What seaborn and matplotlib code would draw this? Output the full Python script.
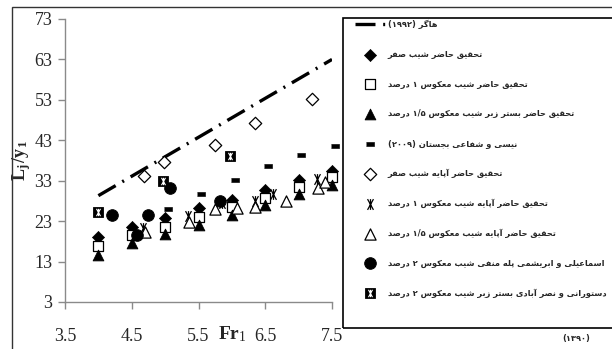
import re
import numpy as np
import pandas as pd
import seaborn as sns
import matplotlib
matplotlib.use("Agg")
import matplotlib.pyplot as plt
from matplotlib.path import Path
from matplotlib.patches import Rectangle
from matplotlib.font_manager import FontProperties

# ---------------- data ----------------
hagar_x = [4.0, 7.5]
hagar_y = [29.3, 63.0]

fr_main = [4.0, 4.5, 5.0, 5.5, 6.0, 6.5, 7.0, 7.5]
zero_slope = [19.1, 21.6, 23.7, 26.3, 28.2, 30.7, 33.2, 35.3]
rev_slope_1 = [16.9, 19.5, 21.6, 24.1, 26.6, 28.8, 31.5, 33.8]
rough_rev_15 = [14.6, 17.5, 19.7, 22.0, 24.5, 27.0, 29.6, 32.0]

nisi_x = [5.04, 5.54, 6.04, 6.54, 7.04, 7.54]
nisi_y = [26.0, 29.6, 33.3, 36.6, 39.4, 41.7]

apron_zero_x = [4.68, 4.99, 5.75, 6.35, 7.2]
apron_zero_y = [34.2, 37.7, 41.8, 47.3, 53.2]

apron_rev1_x = [4.67, 5.35, 5.85, 6.35, 6.62, 7.28]
apron_rev1_y = [21.4, 24.3, 27.4, 28.1, 29.8, 33.5]

apron_rev15_x = [4.7, 5.36, 5.75, 6.07, 6.34, 6.81, 7.29, 7.4]
apron_rev15_y = [20.4, 22.9, 25.9, 26.2, 26.4, 27.9, 31.1, 32.6]

esm_x = [4.21, 4.58, 4.74, 5.08, 5.82]
esm_y = [24.6, 19.6, 24.4, 31.3, 28.0]

dast_x = [4.0, 4.97, 5.97]
dast_y = [25.3, 33.0, 39.2]

labels = [
    "هاگر (۱۹۹۲)",
    "تحقیق حاضر شیب صفر",
    "تحقیق حاضر شیب معکوس ۱ درصد",
    "تحقیق حاضر بستر زبر شیب معکوس ۱/۵ درصد",
    "نیسی و شفاعی بجستان (۲۰۰۹)",
    "تحقیق حاضر آپایه شیب صفر",
    "تحقیق حاضر آپایه شیب معکوس ۱ درصد",
    "تحقیق حاضر آپایه شیب معکوس ۱/۵ درصد",
    "اسماعیلی و ابریشمی پله منفی شیب معکوس ۲ درصد",
    "دستورانی و نصر آبادی بستر زبر شیب معکوس ۲ درصد",
]
label_tail = "(۱۳۹۰)"

x_ticks = [3.5, 4.5, 5.5, 6.5, 7.5]
y_ticks = [3, 13, 23, 33, 43, 53, 63, 73]

# ------------- Persian shaping for display -------------
FORMS = {
    '\u0622': ('\uFE81', '\uFE82', None, None),
    '\u0627': ('\uFE8D', '\uFE8E', None, None),
    '\u0628': ('\uFE8F', '\uFE90', '\uFE91', '\uFE92'),
    '\u067E': ('\uFB56', '\uFB57', '\uFB58', '\uFB59'),
    '\u062A': ('\uFE95', '\uFE96', '\uFE97', '\uFE98'),
    '\u062C': ('\uFE9D', '\uFE9E', '\uFE9F', '\uFEA0'),
    '\u062D': ('\uFEA1', '\uFEA2', '\uFEA3', '\uFEA4'),
    '\u062F': ('\uFEA9', '\uFEAA', None, None),
    '\u0631': ('\uFEAD', '\uFEAE', None, None),
    '\u0632': ('\uFEAF', '\uFEB0', None, None),
    '\u0633': ('\uFEB1', '\uFEB2', '\uFEB3', '\uFEB4'),
    '\u0634': ('\uFEB5', '\uFEB6', '\uFEB7', '\uFEB8'),
    '\u0635': ('\uFEB9', '\uFEBA', '\uFEBB', '\uFEBC'),
    '\u0636': ('\uFEBD', '\uFEBE', '\uFEBF', '\uFEC0'),
    '\u0639': ('\uFEC9', '\uFECA', '\uFECB', '\uFECC'),
    '\u0641': ('\uFED1', '\uFED2', '\uFED3', '\uFED4'),
    '\u0642': ('\uFED5', '\uFED6', '\uFED7', '\uFED8'),
    '\u06A9': ('\uFB8E', '\uFB8F', '\uFB90', '\uFB91'),
    '\u06AF': ('\uFB92', '\uFB93', '\uFB94', '\uFB95'),
    '\u0644': ('\uFEDD', '\uFEDE', '\uFEDF', '\uFEE0'),
    '\u0645': ('\uFEE1', '\uFEE2', '\uFEE3', '\uFEE4'),
    '\u0646': ('\uFEE5', '\uFEE6', '\uFEE7', '\uFEE8'),
    '\u0647': ('\uFEE9', '\uFEEA', '\uFEEB', '\uFEEC'),
    '\u0648': ('\uFEED', '\uFEEE', None, None),
    '\u06CC': ('\uFBFC', '\uFBFD', '\uFBFE', '\uFBFF'),
}


def rtl(s):
    out = []
    for i, c in enumerate(s):
        if c not in FORMS:
            out.append(c)
            continue
        f = FORMS[c]
        prev_j = i > 0 and s[i - 1] in FORMS and FORMS[s[i - 1]][2] is not None
        next_j = f[2] is not None and i + 1 < len(s) and s[i + 1] in FORMS
        if prev_j and next_j:
            out.append(f[3])
        elif prev_j:
            out.append(f[1])
        elif next_j:
            out.append(f[2])
        else:
            out.append(f[0])
    v = ''.join(out)[::-1]
    v = v.translate(str.maketrans({'(': ')', ')': '('}))
    v = re.sub(r'[\u06F0-\u06F90-9]+(?:/[\u06F0-\u06F90-9]+)*', lambda m: m.group(0)[::-1], v)
    return v


# ---------------- figure ----------------
sns.set_style("white")
plt.rcParams['font.family'] = ['Liberation Serif', 'DejaVu Sans']
plt.rcParams['mathtext.fontset'] = 'custom'
plt.rcParams['mathtext.rm'] = 'Liberation Serif'
plt.rcParams['mathtext.it'] = 'Liberation Serif:italic'
plt.rcParams['mathtext.bf'] = 'Liberation Serif:bold'

W, H = 612, 349
fig = plt.figure(figsize=(W / 100, H / 100), dpi=100)
ax = fig.add_axes([65 / W, (H - 302) / H, 267 / W, 283 / H])

K = 'black'
star = Path([(-0.55, -1), (0.55, 1), (-0.55, 1), (0.55, -1), (0, -1), (0, 1)],
            [Path.MOVETO, Path.LINETO, Path.MOVETO, Path.LINETO, Path.MOVETO, Path.LINETO])
dash = [(-1, -0.45), (1, -0.45), (1, 0.45), (-1, 0.45)]

sns.lineplot(x=hagar_x, y=hagar_y, ax=ax, color=K, lw=2.4,
             ls=(0, (6, 2.3, 0.6, 2.3)), label='_h')
h_line = ax.get_lines()[-1]


def sc(x, y, **kw):
    before = len(ax.collections)
    sns.scatterplot(x=x, y=y, ax=ax, clip_on=False, zorder=3, **kw)
    return ax.collections[before]


h1 = sc(fr_main, zero_slope, marker='D', s=38, color=K, edgecolor=K)
h2 = sc(fr_main, rev_slope_1, marker='s', s=50, color='white', edgecolor=K, linewidth=0.9)
h3 = sc(fr_main, rough_rev_15, marker='^', s=60, color=K, edgecolor=K)
h4 = sc(nisi_x, nisi_y, marker=dash, s=30, color=K, edgecolor=K)
h5 = sc(apron_zero_x, apron_zero_y, marker='D', s=40, color='white', edgecolor=K, linewidth=0.9)
h6 = sc(apron_rev1_x, apron_rev1_y, marker=star, s=60, color=K, edgecolor=K, linewidth=0.9)
h7 = sc(apron_rev15_x, apron_rev15_y, marker='^', s=65, color='white', edgecolor=K, linewidth=0.9)
h8 = sc(esm_x, esm_y, marker='o', s=70, color=K, edgecolor=K)
h9a = sc(dast_x, dast_y, marker='s', s=55, color=K, edgecolor=K)
h9b = sc(dast_x, dast_y, marker=star, s=28, color='white', edgecolor='white', linewidth=0.8)

ax.set_xlim(3.5, 7.5)
ax.set_ylim(3, 73)
ax.set_xticks(x_ticks)
ax.set_xticklabels([str(v) for v in x_ticks])
ax.set_yticks(y_ticks)
for sp in ['top', 'right']:
    ax.spines[sp].set_visible(False)
for sp in ['left', 'bottom']:
    ax.spines[sp].set_color('#8a8a8a')
    ax.spines[sp].set_linewidth(1)
ax.tick_params(axis='y', direction='out', length=5, width=1, color='#8a8a8a',
               pad=4, labelsize=13, left=True)
ax.tick_params(axis='x', direction='out', length=5, width=1, color='#8a8a8a',
               pad=14, labelsize=13, bottom=True)

ax.set_xlabel(r'$\mathbf{Fr}_{\mathrm{1}}$', fontsize=14)
ax.xaxis.set_label_coords((232 - 65) / 267, (302 - 334) / 283)
ax.xaxis.label.set_va('center')
ax.set_ylabel(r'$\mathbf{L}_{\mathbf{j}}\,\mathbf{/y}_{\mathbf{1}}$', fontsize=13)
ax.yaxis.set_label_coords((22 - 65) / 267, (302 - 161) / 283)
ax.yaxis.label.set_va('center')

# legend: fit the longest label into the space available
shown = [rtl(t) for t in labels]
renderer = fig.canvas.get_renderer()
probes = [fig.text(0, 0, t, family=['DejaVu Sans'], weight='bold', fontsize=10) for t in shown]
maxw = max(p.get_window_extent(renderer).width for p in probes)
for p in probes:
    p.remove()
leg_fs = 10 * 219 / maxw
f_px = leg_fs * 100 / 72
pitch = (300 - 25) / 9
lspace = (pitch - 1.21 * f_px) / f_px
hlen = 30 / f_px
top_px = 25 - 0.6 * f_px

handles = [h_line, h1, h2, h3, h4, h5, h6, h7, h8, (h9a, h9b)]
leg = ax.legend(handles, shown, loc='upper left',
                bbox_to_anchor=(355 / W, 1 - top_px / H), bbox_transform=fig.transFigure,
                frameon=False, borderpad=0, borderaxespad=0,
                handlelength=hlen, handletextpad=2.5 / f_px, labelspacing=lspace,
                prop=FontProperties(family=['DejaVu Sans'], weight='bold', size=leg_fs))

# legend frame and figure frame
fig.add_artist(Rectangle((343 / W, (H - 328) / H), 1.0, 310 / H, transform=fig.transFigure,
                         fill=False, edgecolor=K, lw=1.2, clip_on=False))
fig.add_artist(Rectangle((12 / W, -0.2), 1.2, (H - 7) / H + 0.2, transform=fig.transFigure,
                         fill=False, edgecolor='#333333', lw=1.0, clip_on=False))
fig.text(590 / W, 1 - 339 / H, rtl(label_tail), ha='right', va='center',
         family=['DejaVu Sans'], weight='bold', fontsize=leg_fs)

fig.savefig('out.png', dpi=100)
